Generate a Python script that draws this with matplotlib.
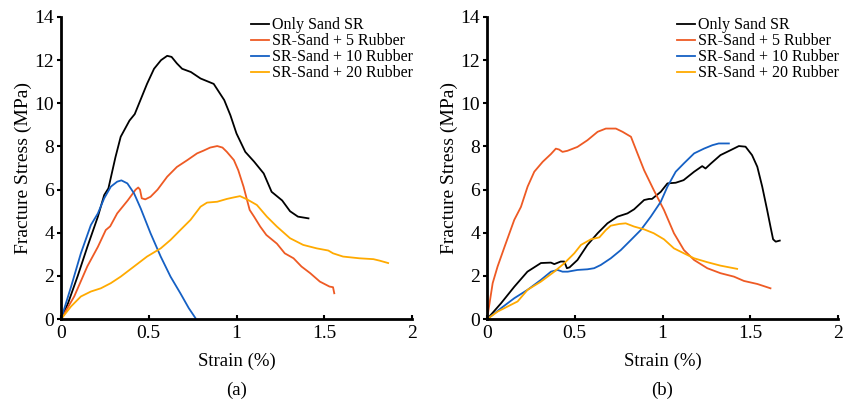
import matplotlib.pyplot as plt

plt.rcParams['font.family'] = ['Liberation Serif', 'DejaVu Serif']

labels = ["Only Sand SR", "SR-Sand + 5 Rubber", "SR-Sand + 10 Rubber", "SR-Sand + 20 Rubber"]
colors = ['#000000', '#EE5A24', '#1560C4', '#FFAA00']

# panel (a)
a_sand_x = [0, 0.04, 0.095, 0.15, 0.21, 0.246, 0.27, 0.31, 0.34, 0.39, 0.42, 0.45, 0.49, 0.53, 0.57, 0.605,
            0.63, 0.66, 0.69, 0.74, 0.795, 0.84, 0.87, 0.91, 0.93, 0.965, 1.0, 1.05, 1.1, 1.155, 1.2, 1.26,
            1.305, 1.35, 1.41]
a_sand_y = [0, 0.74, 2.0, 3.35, 4.75, 5.75, 6.06, 7.5, 8.45, 9.2, 9.5, 10.1, 10.9, 11.6, 12.0, 12.2,
            12.15, 11.85, 11.6, 11.45, 11.15, 11.0, 10.9, 10.4, 10.15, 9.45, 8.6, 7.75, 7.3, 6.75, 5.9, 5.5,
            5.0, 4.75, 4.67]
a_r5_x = [0, 0.075, 0.15, 0.21, 0.255, 0.28, 0.32, 0.38, 0.425, 0.44, 0.45, 0.46, 0.48, 0.51, 0.55, 0.605,
          0.66, 0.72, 0.775, 0.81, 0.85, 0.89, 0.92, 0.945, 0.985, 1.01, 1.04, 1.06, 1.075, 1.1, 1.135, 1.17,
          1.23, 1.275, 1.325, 1.37, 1.42, 1.475, 1.53, 1.55, 1.557]
a_r5_y = [0, 1.05, 2.45, 3.35, 4.13, 4.3, 4.9, 5.5, 6.0, 6.1, 6.0, 5.6, 5.55, 5.67, 6.0, 6.6,
          7.05, 7.37, 7.68, 7.8, 7.95, 8.02, 7.95, 7.75, 7.37, 6.9, 6.14, 5.52, 5.06, 4.75, 4.29, 3.9,
          3.5, 3.05, 2.82, 2.44, 2.13, 1.74, 1.51, 1.48, 1.2]
a_r10_x = [0, 0.057, 0.113, 0.17, 0.21, 0.246, 0.284, 0.32, 0.344, 0.378, 0.416, 0.454, 0.51, 0.568,
           0.624, 0.68, 0.728, 0.766]
a_r10_y = [0, 1.5, 3.05, 4.36, 4.9, 5.6, 6.14, 6.37, 6.43, 6.29, 5.83, 5.13, 3.98, 2.9,
           1.97, 1.2, 0.51, 0.05]
a_r20_x = [0, 0.057, 0.113, 0.17, 0.227, 0.284, 0.34, 0.416, 0.49, 0.568, 0.624, 0.68, 0.738, 0.795,
           0.832, 0.89, 0.945, 0.984, 1.02, 1.06, 1.116, 1.173, 1.23, 1.305, 1.38, 1.457, 1.523, 1.55,
           1.607, 1.7, 1.78, 1.816, 1.864]
a_r20_y = [0, 0.59, 1.05, 1.28, 1.43, 1.67, 1.97, 2.44, 2.9, 3.28, 3.67, 4.13, 4.6, 5.21,
           5.4, 5.44, 5.57, 5.64, 5.7, 5.55, 5.29, 4.75, 4.29, 3.75, 3.44, 3.28, 3.18, 3.05,
           2.9, 2.82, 2.78, 2.71, 2.6]

# panel (b)
b_sand_x = [0, 0.08, 0.155, 0.23, 0.307, 0.364, 0.383, 0.42, 0.44, 0.455, 0.47, 0.515, 0.572, 0.63, 0.686,
            0.743, 0.8, 0.838, 0.895, 0.923, 0.94, 0.99, 1.028, 1.075, 1.12, 1.18, 1.226, 1.245, 1.274, 1.33,
            1.388, 1.435, 1.473, 1.51, 1.54, 1.568, 1.596, 1.615, 1.63, 1.645, 1.668]
b_sand_y = [0, 0.74, 1.5, 2.2, 2.6, 2.62, 2.55, 2.67, 2.67, 2.36, 2.4, 2.74, 3.44, 3.98, 4.44,
            4.75, 4.9, 5.09, 5.52, 5.57, 5.57, 5.9, 6.29, 6.32, 6.44, 6.83, 7.09, 6.98, 7.2, 7.6,
            7.83, 8.02, 7.99, 7.6, 7.06, 6.14, 5.06, 4.29, 3.7, 3.59, 3.64]
b_r5_x = [0, 0.032, 0.06, 0.1, 0.155, 0.193, 0.231, 0.269, 0.317, 0.364, 0.392, 0.41, 0.43, 0.458, 0.515,
          0.572, 0.63, 0.677, 0.734, 0.772, 0.82, 0.857, 0.895, 0.95, 1.008, 1.065, 1.122, 1.18, 1.255,
          1.33, 1.407, 1.464, 1.54, 1.615]
b_r5_y = [0, 1.67, 2.44, 3.36, 4.6, 5.2, 6.14, 6.83, 7.29, 7.65, 7.9, 7.86, 7.75, 7.8, 7.98,
          8.29, 8.68, 8.83, 8.83, 8.68, 8.45, 7.68, 6.9, 5.98, 5.06, 3.98, 3.2, 2.74, 2.36,
          2.13, 1.97, 1.77, 1.63, 1.43]
b_r10_x = [0, 0.08, 0.155, 0.231, 0.307, 0.364, 0.402, 0.43, 0.46, 0.515, 0.572, 0.61, 0.648, 0.705,
           0.762, 0.82, 0.876, 0.933, 0.99, 1.028, 1.075, 1.122, 1.18, 1.236, 1.284, 1.32, 1.378]
b_r10_y = [0, 0.51, 0.97, 1.36, 1.82, 2.2, 2.28, 2.2, 2.2, 2.28, 2.31, 2.36, 2.51, 2.82,
           3.2, 3.67, 4.13, 4.75, 5.44, 6.14, 6.83, 7.22, 7.68, 7.9, 8.06, 8.14, 8.14]
b_r20_x = [0, 0.06, 0.118, 0.174, 0.231, 0.307, 0.383, 0.44, 0.497, 0.535, 0.592, 0.64, 0.677, 0.705,
           0.753, 0.79, 0.838, 0.895, 0.95, 1.008, 1.065, 1.122, 1.18, 1.255, 1.33, 1.425]
b_r20_y = [0, 0.35, 0.59, 0.82, 1.36, 1.74, 2.2, 2.59, 3.05, 3.44, 3.7, 3.79, 4.13, 4.33,
           4.41, 4.44, 4.29, 4.16, 3.98, 3.7, 3.28, 3.05, 2.82, 2.64, 2.48, 2.33]

panels = [
    ("(a)", [(a_sand_x, a_sand_y), (a_r5_x, a_r5_y), (a_r10_x, a_r10_y), (a_r20_x, a_r20_y)]),
    ("(b)", [(b_sand_x, b_sand_y), (b_r5_x, b_r5_y), (b_r10_x, b_r10_y), (b_r20_x, b_r20_y)]),
]

fig = plt.figure(figsize=(8.56, 4.04), dpi=100)
lefts = [0.0713, 0.569]
for (tag, series), left in zip(panels, lefts):
    ax = fig.add_axes([left, 0.21, 0.41, 0.748])
    for (x, y), c, lab in zip(series, colors, labels):
        ax.plot(x, y, color=c, lw=1.3, label=lab)
    ax.set_xlim(0, 2)
    ax.set_ylim(0, 14)
    ax.set_xticks([0, 0.5, 1, 1.5, 2])
    ax.set_xticklabels(['0', '0.5', '1', '1.5', '2'])
    ax.set_yticks(range(0, 15, 2))
    for s in ['top', 'right']:
        ax.spines[s].set_visible(False)
    for s in ['left', 'bottom']:
        ax.spines[s].set_linewidth(2)
    ax.tick_params(axis='y', direction='out', length=3, width=1.5, labelsize=14, pad=2)
    ax.tick_params(axis='x', direction='in', length=3, width=1.5, labelsize=14, pad=4)
    ax.set_xlabel('Strain (%)', fontsize=13.5, labelpad=8)
    ax.set_ylabel('Fracture Stress (MPa)', fontsize=14, labelpad=1.5)
    ax.text(0.5, -0.235, tag, transform=ax.transAxes, ha='center', va='center', fontsize=13.5)
    ax.legend(loc='upper right', bbox_to_anchor=(1.03, 1.03), frameon=False, fontsize=11.5,
              handlelength=1.1, handletextpad=0.2, labelspacing=0.0, borderaxespad=0.2)

plt.savefig('out.png', dpi=100)
plt.close()
